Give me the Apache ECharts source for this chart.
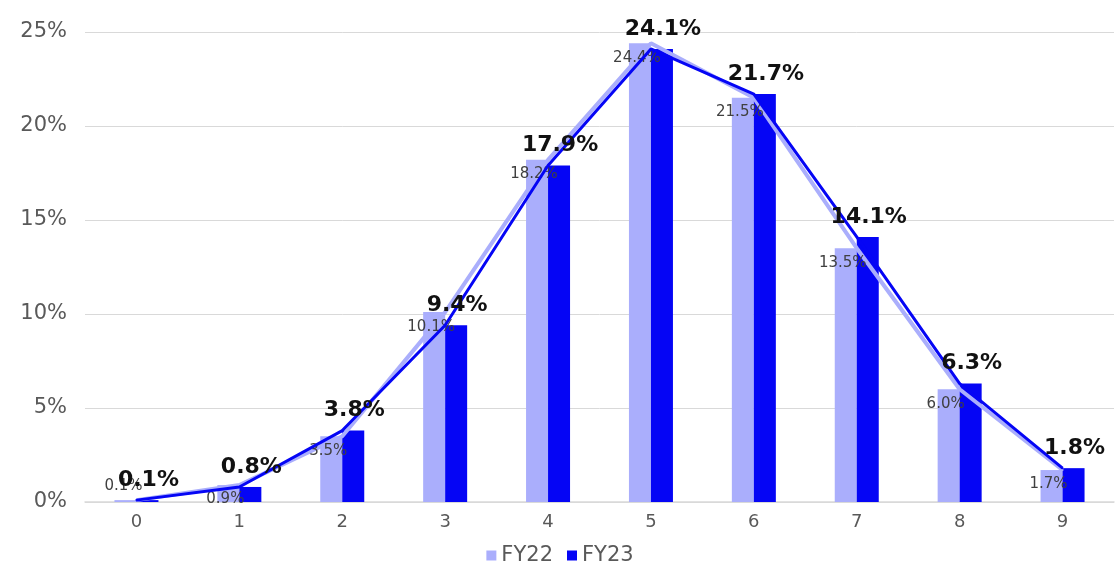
<!DOCTYPE html>
<html>
<head>
<meta charset="utf-8">
<script src="https://cdn.jsdelivr.net/npm/echarts@6/dist/echarts.min.js"></script>
<style>
  html, body { margin: 0; padding: 0; background: #fff; }
  #chart { width: 1120px; height: 566px; }
</style>
</head>
<body>
<div id="chart"></div>
<script>
const categories = ['0', '1', '2', '3', '4', '5', '6', '7', '8', '9'];
const fy22 = [0.1, 0.9, 3.5, 10.1, 18.2, 24.4, 21.5, 13.5, 6.0, 1.7];
const fy23 = [0.1, 0.8, 3.8, 9.4, 17.9, 24.1, 21.7, 14.1, 6.3, 1.8];
const yTicks = [0, 5, 10, 15, 20, 25];

const FONT = '"DejaVu Sans", sans-serif';
const C22 = '#aaaefc';
const C23 = '#0505f5';

const chart = echarts.init(document.getElementById('chart'));

const pct = (p) => Number(p.value).toFixed(1) + '%';

// small FY22 labels sit just under the point, left of center
const fy22LineData = fy22.map((v, i) => {
    if (i === 0) {
        return { value: v, label: { position: 'top', offset: [-13, -2] } };
    }
    return v;
});

const option = {
    backgroundColor: '#ffffff',
    animation: false,
    textStyle: { fontFamily: FONT },
    grid: { left: 85, right: 6, top: 32, bottom: 64 },
    legend: {
        data: ['FY22', 'FY23'],
        top: 540,
        left: 'center',
        icon: 'rect',
        itemWidth: 10,
        itemHeight: 10,
        itemGap: 14,
        textStyle: { color: '#595959', fontSize: 21, fontFamily: FONT }
    },
    xAxis: {
        type: 'category',
        data: categories,
        axisLine: { lineStyle: { color: '#d9d9d9', width: 1.5 } },
        axisTick: { show: false },
        axisLabel: { color: '#595959', fontSize: 18, margin: 11, fontFamily: FONT }
    },
    yAxis: {
        type: 'value',
        min: yTicks[0],
        max: yTicks[yTicks.length - 1],
        interval: 5,
        axisLine: { show: false },
        axisTick: { show: false },
        splitLine: { lineStyle: { color: '#d9d9d9', width: 1 } },
        axisLabel: {
            color: '#595959',
            fontSize: 21,
            margin: 18,
            fontFamily: FONT,
            formatter: (v) => v + '%'
        }
    },
    series: [
        {
            name: 'FY22',
            type: 'bar',
            data: fy22,
            barWidth: 22,
            barGap: '0%',
            itemStyle: { color: C22 },
            z: 2
        },
        {
            name: 'FY23',
            type: 'bar',
            data: fy23,
            barWidth: 22,
            barGap: '0%',
            itemStyle: { color: C23 },
            z: 2
        },
        {
            name: 'FY22',
            type: 'line',
            data: fy22LineData,
            smooth: false,
            symbol: 'circle',
            symbolSize: 2,
            showSymbol: true,
            lineStyle: { color: C22, width: 4 },
            itemStyle: { color: C22 },
            z: 3,
            label: {
                show: true,
                position: 'bottom',
                distance: 4,
                offset: [-14, 2],
                formatter: pct,
                color: '#404040',
                fontSize: 15,
                fontFamily: FONT
            }
        },
        {
            name: 'FY23',
            type: 'line',
            data: fy23,
            smooth: false,
            symbol: 'circle',
            symbolSize: 2,
            showSymbol: true,
            lineStyle: { color: C23, width: 3 },
            itemStyle: { color: C23 },
            z: 4,
            label: {
                show: true,
                position: 'top',
                distance: 8,
                offset: [12, 0],
                formatter: pct,
                color: '#111111',
                fontSize: 22,
                fontWeight: 'bold',
                fontFamily: FONT
            }
        }
    ]
};

chart.setOption(option);
</script>
</body>
</html>
